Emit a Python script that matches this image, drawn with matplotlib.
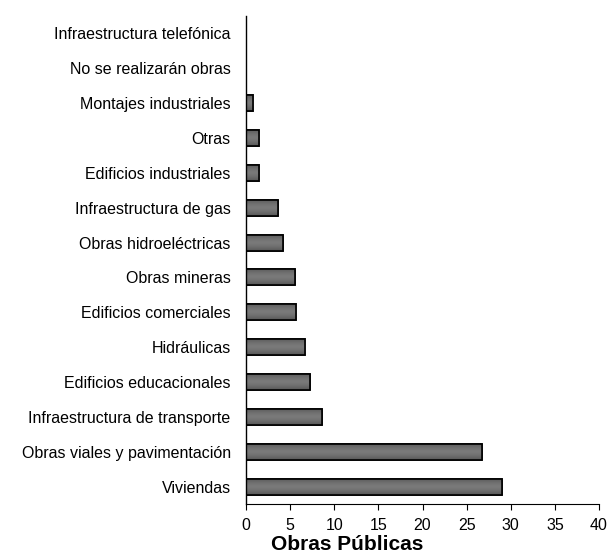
import matplotlib
matplotlib.use("Agg")
import matplotlib.pyplot as plt
import numpy as np

categories = ["Viviendas", "Obras viales y pavimentación", "Infraestructura de transporte",
              "Edificios educacionales", "Hidráulicas", "Edificios comerciales", "Obras mineras",
              "Obras hidroeléctricas", "Infraestructura de gas", "Edificios industriales", "Otras",
              "Montajes industriales", "No se realizarán obras", "Infraestructura telefónica"]
values = [29.0, 26.7, 8.6, 7.2, 6.7, 5.7, 5.55, 4.15, 3.6, 1.5, 1.5, 0.8, 0.0, 0.0]
xticks = [0, 5, 10, 15, 20, 25, 30, 35, 40]
xlabel = "Obras Públicas"

plt.rcParams['font.family'] = ['Liberation Sans', 'DejaVu Sans']

fig = plt.figure(figsize=(6.1, 5.55), dpi=100)
ax = fig.add_axes([246/610, (555-504)/555, (599-246)/610, (504-16)/555])

y = np.arange(len(categories))
h = 0.46
bars = ax.barh(y, values, height=h, color='#666666', edgecolor='black', linewidth=1.2, zorder=2)

# vertical gradient inside each bar (dark edges, lighter middle)
grad = np.abs(np.linspace(-1, 1, 64))[:, None]
grad = 0.48 - 0.14 * grad ** 1.5
for b, v, yi in zip(bars, values, y):
    if v <= 0:
        b.set_visible(False)
        continue
    im = ax.imshow(np.repeat(grad, 2, axis=1), cmap='gray', vmin=0, vmax=1, aspect='auto',
                   extent=(0, v, yi - h/2, yi + h/2), zorder=2.5, interpolation='bilinear')
    im.set_clip_path(b)
    ax.add_patch(plt.Rectangle((0, yi - h/2), v, h, fill=False, edgecolor='black',
                               linewidth=1.2, zorder=3))

ax.set_xlim(0, 40)
ax.set_ylim(-0.5, len(categories) - 0.5)
ax.set_xticks(xticks)
ax.set_xticklabels([str(t) for t in xticks], fontsize=11.5)
ax.set_yticks(y)
ax.set_yticklabels(categories, fontsize=11.5)
ax.tick_params(axis='y', length=0, pad=11)
ax.tick_params(axis='x', length=4, direction='out', pad=6, width=0.8)
for s in ['top', 'right']:
    ax.spines[s].set_visible(False)
ax.spines['left'].set_linewidth(1.0)
ax.spines['bottom'].set_linewidth(0.8)
ax.spines['left'].set_zorder(4)

fig.text(347/610, 1 - 545/555, xlabel, ha='center', va='center', fontsize=15, fontweight='bold')

fig.savefig("out.png", dpi=100)
